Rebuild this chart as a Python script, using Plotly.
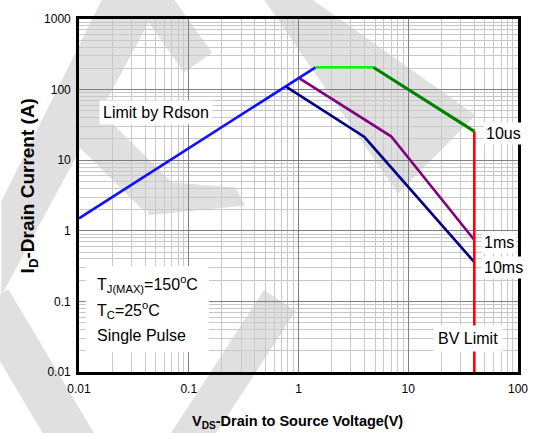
import plotly.graph_objects as go

# ---------------- data ----------------
rdson_v = [0.01, 1.43]
rdson_i = [1.5, 207]
flat_v = [1.43, 4.8]
flat_i = [207, 207]
us10_v = [4.8, 40]
us10_i = [207, 25.6]
bv_v = [40, 40]
bv_i = [25.6, 0.01]
ms1_v = [1.03, 6.97, 40]
ms1_i = [143, 21.8, 0.74]
ms10_v = [0.77, 3.99, 40]
ms10_i = [110, 21.3, 0.36]

x_tick_vals = [0.01, 0.1, 1, 10, 100]
x_tick_text = ["0.01", "0.1", "1", "10", "100"]
y_tick_vals = [0.01, 0.1, 1, 10, 100, 1000]
y_tick_text = ["0.01", "0.1", "1", "10", "100", "1000"]

# ---------------- layout geometry ----------------
W, H = 540, 433
L, R, T, B = 79, 15, 16, 61
PW, PH = W - L - R, H - T - B


def px(x):
    return (x - L) / PW


def py(y):
    return (H - B - y) / PH


minor_x = [m * 10 ** k for k in range(-2, 2) for m in range(2, 10)]
minor_y = [m * 10 ** k for k in range(-2, 3) for m in range(2, 10)]

FONT = "Liberation Sans, Arial, sans-serif"

fig = go.Figure()


def add_line(v, i, color, width=2.6):
    fig.add_trace(go.Scatter(x=v, y=i, mode="lines",
                             line=dict(color=color, width=width),
                             showlegend=False, hoverinfo="skip"))


add_line(rdson_v, rdson_i, "#1010ff")
add_line(ms10_v, ms10_i, "#000080")
add_line(ms1_v, ms1_i, "#800080")
add_line(flat_v, flat_i, "#00ff00")
add_line(us10_v, us10_i, "#008000", 3)
add_line(bv_v, bv_i, "#ff0000")

# ---------------- faint watermark strokes ----------------
WM = "#e0e0e0"
shapes = []


def wm_poly(pts):
    d = "M " + " L ".join(f"{px(x):.4f} {py(y):.4f}" for x, y in pts) + " Z"
    shapes.append(dict(type="path", xref="paper", yref="paper", path=d,
                       fillcolor=WM, line=dict(width=0), layer="below"))


def wm_line(p0, p1, w):
    shapes.append(dict(type="line", xref="paper", yref="paper",
                       x0=px(p0[0]), y0=py(p0[1]), x1=px(p1[0]), y1=py(p1[1]),
                       line=dict(color=WM, width=w), layer="below"))


wm_poly([(103, -5), (163, -5), (0, 295), (0, 200)])
wm_line((150, -10), (200, 60), 34)
wm_line((60, 98), (160, 196), 40)
wm_poly([(140, 178), (238, 186), (248, 204), (150, 214)])
wm_poly([(266, -5), (314, -5), (482, 113), (403, 192)])
wm_line((188, 445), (283, 300), 38)
wm_line((-12, 300), (75, 445), 44)

# white box for the conditions text
shapes.append(dict(type="rect", xref="paper", yref="paper",
                   x0=px(86), x1=px(211), y0=py(352), y1=py(265),
                   fillcolor="white", line=dict(width=0), layer="above"))

annotations = []


def label(text, x, y, size=16, xanchor="center", bg="white", pad=3):
    annotations.append(dict(text=text, xref="paper", yref="paper",
                            x=px(x), y=py(y), xanchor=xanchor, yanchor="middle",
                            showarrow=False, bgcolor=bg, borderpad=pad,
                            font=dict(family=FONT, size=size, color="black")))


label("Limit by Rdson", 157, 110)
label("10us", 489, 131, xanchor="left", pad=2)
label("1ms", 487, 241, xanchor="left", pad=2)
label("10ms", 487, 267, xanchor="left", pad=2)
label("BV Limit", 474, 338, pad=4)
label("T<sub>J(MAX)</sub>=150<sup>o</sup>C", 96, 283, xanchor="left", bg=None, pad=0)
label("T<sub>C</sub>=25<sup>o</sup>C", 96, 309, xanchor="left", bg=None, pad=0)
label("Single Pulse", 96, 335, xanchor="left", bg=None, pad=0)

# axis titles
annotations.append(dict(text="<b>I<sub>D</sub>-Drain Current (A)</b>",
                        xref="paper", yref="paper", x=px(28), y=py(184),
                        textangle=-90, showarrow=False,
                        xanchor="center", yanchor="middle",
                        font=dict(family=FONT, size=19, color="black")))
annotations.append(dict(text="<b>V<sub>DS</sub>-Drain to Source Voltage(V)</b>",
                        xref="paper", yref="paper", x=px(301), y=py(422),
                        showarrow=False, xanchor="center", yanchor="middle",
                        font=dict(family=FONT, size=14.5, color="black")))

axis_common = dict(type="log", showline=True, linecolor="black", linewidth=2.6,
                   mirror=True, ticks="", showgrid=True, gridcolor="#7f7f7f",
                   gridwidth=1, zeroline=False,
                   tickfont=dict(family=FONT, size=12, color="black"))

fig.update_layout(
    width=W, height=H,
    margin=dict(l=L, r=R, t=T, b=B, pad=0),
    paper_bgcolor="white",
    plot_bgcolor="rgba(0,0,0,0)",
    showlegend=False,
    xaxis=dict(range=[-2, 2], tickmode="array", tickvals=x_tick_vals,
               ticktext=x_tick_text, ticklabelstandoff=4,
               minor=dict(tickvals=minor_x, showgrid=True,
                          gridcolor="#c8c8c8", gridwidth=1, ticks=""),
               **axis_common),
    yaxis=dict(range=[-2, 3], tickmode="array", tickvals=y_tick_vals,
               ticktext=y_tick_text, ticklabelstandoff=3,
               minor=dict(tickvals=minor_y, showgrid=True,
                          gridcolor="#c8c8c8", gridwidth=1, ticks=""),
               **axis_common),
    shapes=shapes,
    annotations=annotations,
)

fig.write_html("out.html")
